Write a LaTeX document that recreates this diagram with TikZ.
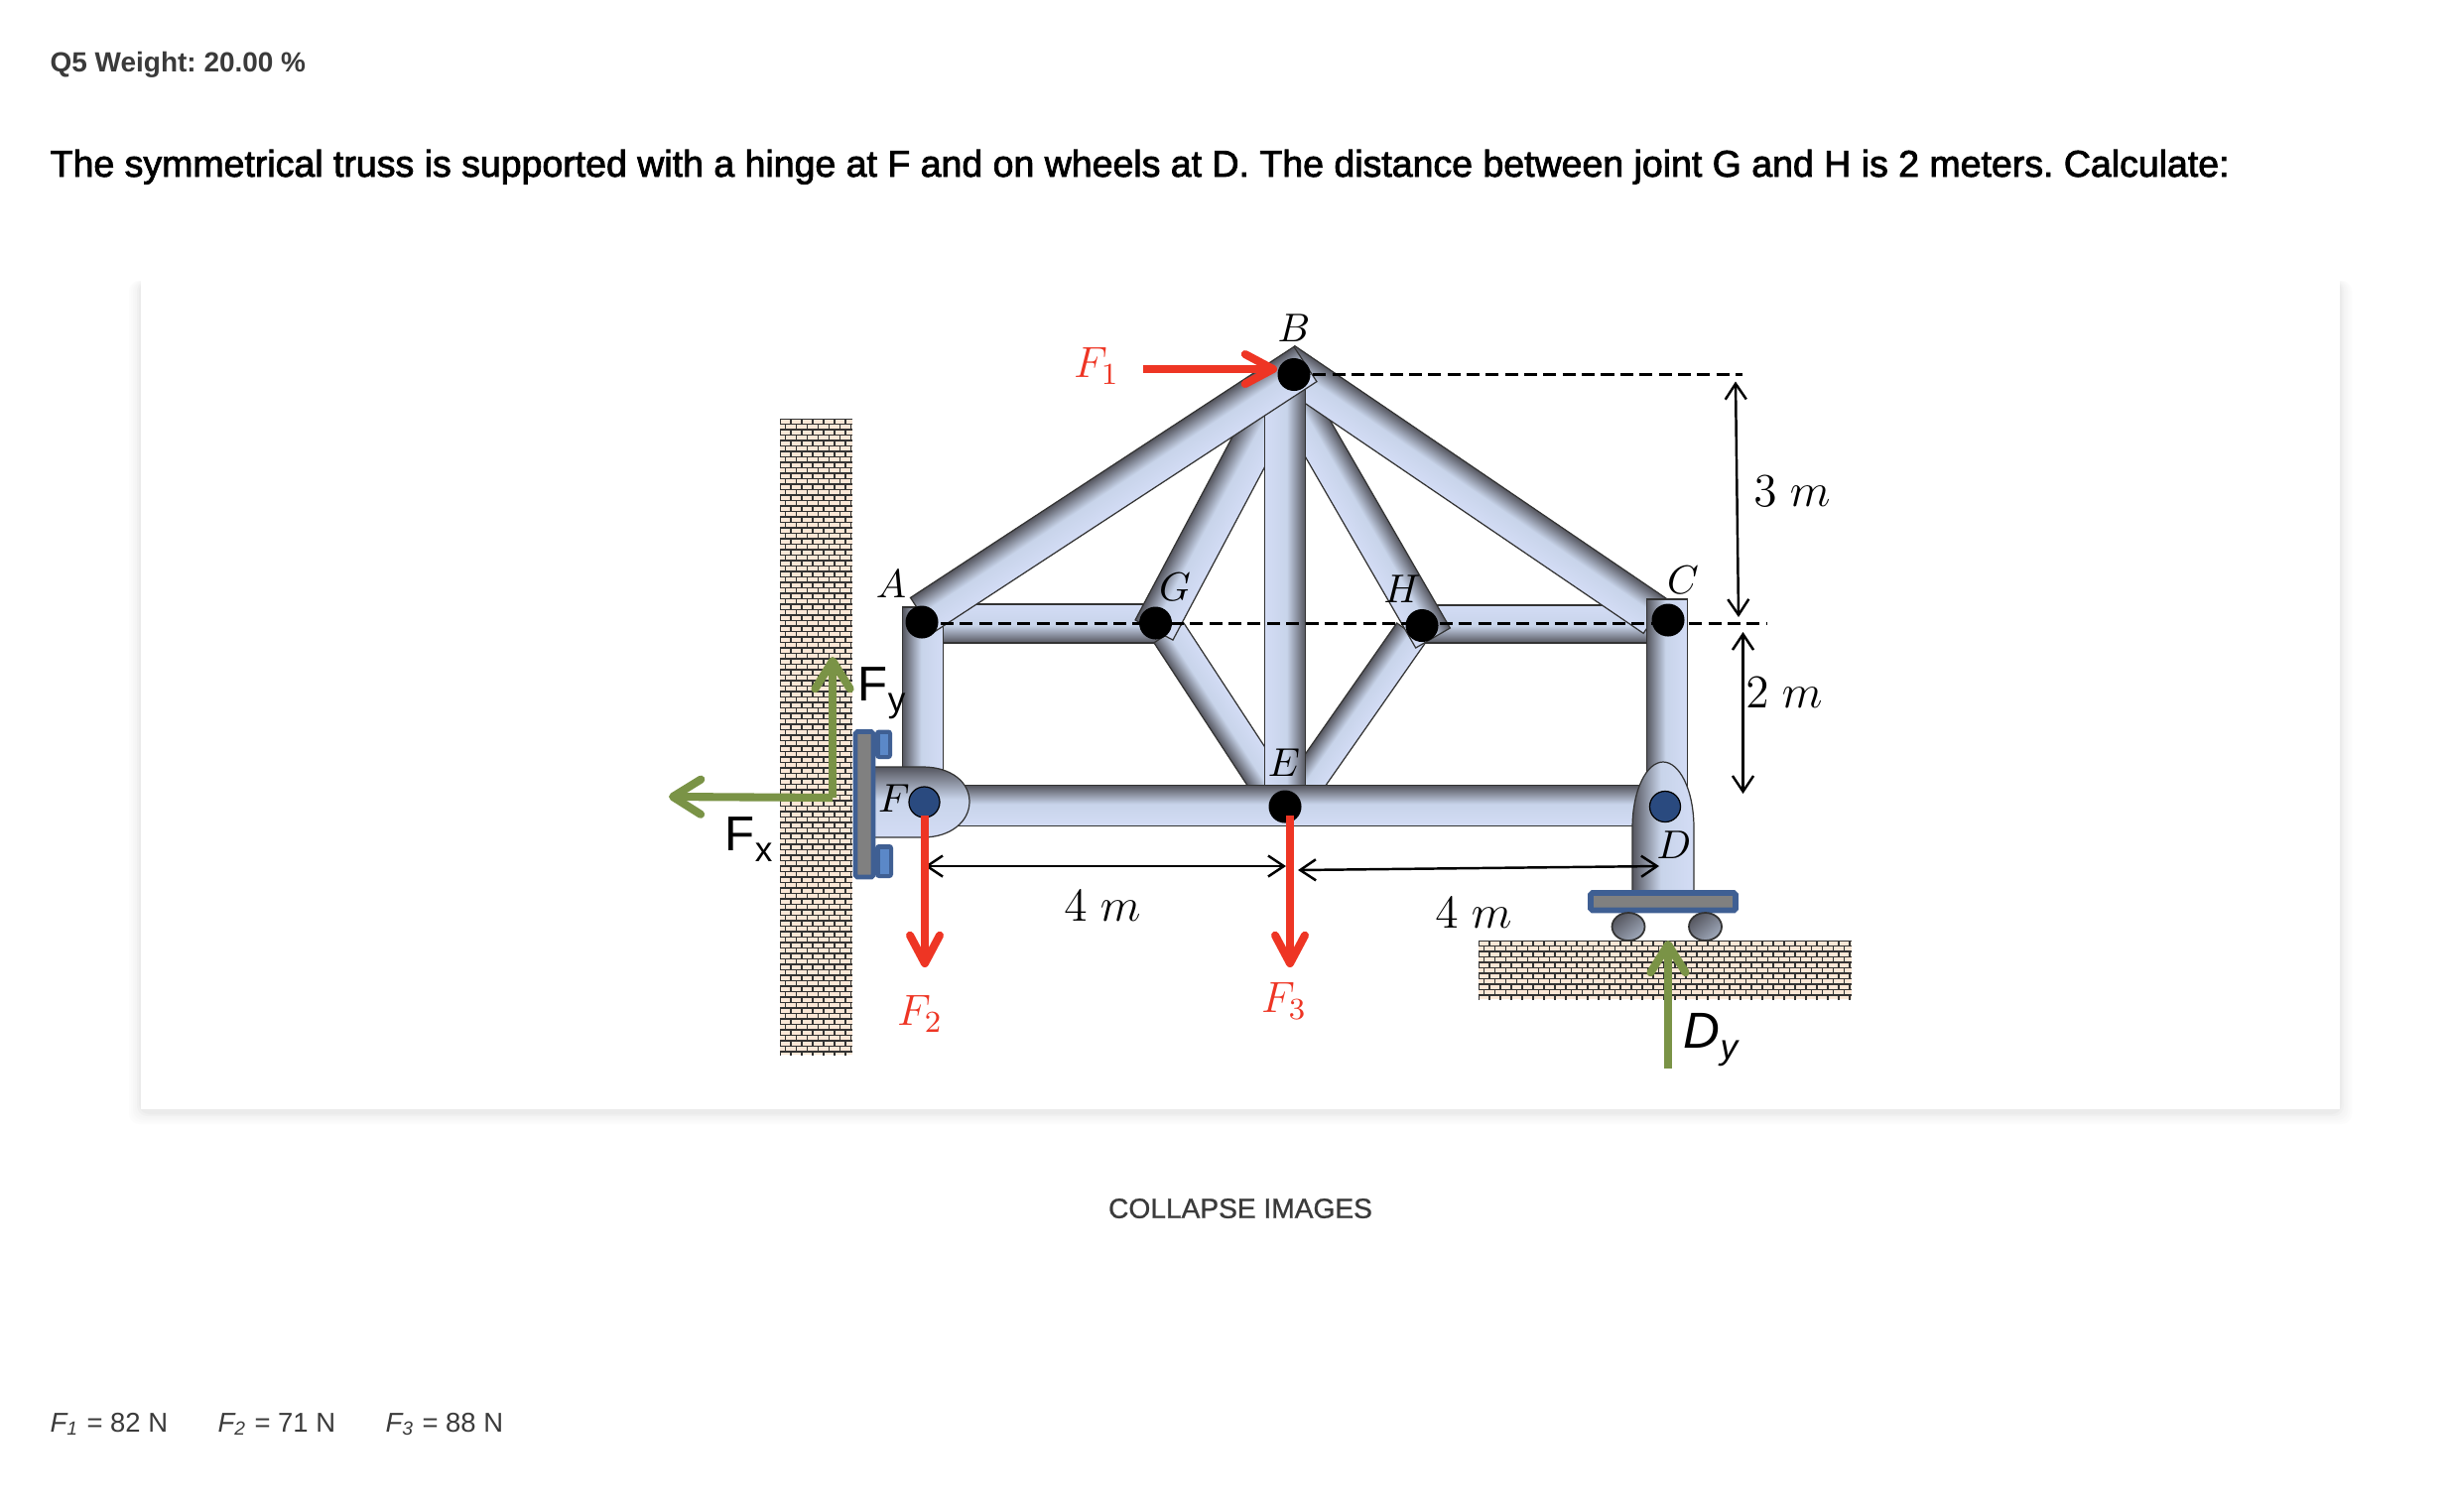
\documentclass[tikz,border=0pt]{standalone}
\usepackage{fix-cm}
\usepackage[no-math]{fontspec}
\setmainfont{Liberation Sans}
\newfontfamily\headfont[FakeBold=2.2]{Liberation Sans}
\newfontfamily\midfont[FakeBold=0.8]{Liberation Sans}
\usetikzlibrary{arrows.meta}

\definecolor{tubeDark}{HTML}{55565F}
\definecolor{tubeMid}{HTML}{C8D4EA}
\definecolor{tubeLow}{HTML}{D3DCF5}
\definecolor{pinBlue}{HTML}{2A4A7F}
\definecolor{plateBlue}{HTML}{3F5F93}
\definecolor{lugBlue}{HTML}{5B88C8}
\definecolor{brickTan}{HTML}{FBE7D6}
\definecolor{brickLine}{HTML}{333333}
\definecolor{forceRed}{HTML}{EE3524}
\definecolor{forceGreen}{HTML}{7A9346}
\definecolor{textGray}{HTML}{3A3A3A}

\pgfdeclareverticalshading{tube}{100bp}{color(0bp)=(tubeLow); color(25bp)=(tubeLow); color(52bp)=(tubeMid); color(75bp)=(tubeDark); color(100bp)=(tubeDark)}
\pgfdeclareverticalshading{wheel}{100bp}{color(0bp)=(tubeMid!80!black); color(25bp)=(tubeMid!80!black); color(75bp)=(tubeDark); color(100bp)=(tubeDark)}

\tikzset{
	tubeedge/.style={draw=black!80,line width=.35pt},
	joint/.style={circle,fill=black,inner sep=0pt,minimum size=.33cm},
	pin/.style={circle,fill=pinBlue,draw=black,line width=.35pt,inner sep=0pt,minimum size=.31cm},
	redforce/.style={forceRed,line width=2.3pt,-{Straight Barb[round,length=8pt,width=8.5pt]}},
	greenforce/.style={forceGreen,line width=2.3pt,-{Straight Barb[round,length=8pt,width=10pt]}},
	dimline/.style={black,line width=.7pt,<->,>={Straight Barb[length=4.5pt,width=6pt]}},
	dashline/.style={black,line width=.7pt,dash pattern=on 3.7pt off 1.8pt},
	jointlabel/.style={font=\fontsize{11.5}{14}\selectfont},
	forcelabel/.style={forceRed,font=\fontsize{12.5}{15}\selectfont},
	dimlabel/.style={font=\fontsize{13.5}{16}\selectfont},
	reaction/.style={font=\fontsize{14}{16}\selectfont,inner sep=0pt},
	platebar/.style={fill=black!50,draw=plateBlue,rounded corners=.5pt},
}

% one member, the dark side lies left of the direction of travel
\newcommand{\tubemember}[5]{%
	\pgfmathsetmacro\tubeang{atan2(-(#4-#2),#3-#1)}%
	\pgfmathsetmacro\tubelen{veclen(#3-#1,#4-#2)}%
	\begin{scope}[transform canvas={shift={(#1,#2)},rotate=\tubeang}]
		\shadedraw[tubeedge,shading=tube] (0,#5/2) rectangle (\tubelen,-#5/2);
	\end{scope}
}

% subscript of the reactions
\newcommand{\lowsub}[1]{\raisebox{-3.2pt}{\fontsize{10}{10}\selectfont #1}}

% brick hatching
\newcommand{\brickwall}[4]{%
	\pgfmathtruncatemacro\nrows{(#4-#2)/5.5}%
	\pgfmathtruncatemacro\ncols{(#3-#1)/11}%
	\begin{scope}
		\clip (#1,#2) rectangle (#3,#4);
		\fill[brickTan] (#1,#2) rectangle (#3,#4);
		\foreach \r in {0,...,\nrows}{
			\pgfmathsetmacro\rowy{#2+\r*5.5}
			\pgfmathsetmacro\rowoff{#1+5.5*mod(\r,2)}
			\draw[brickLine,line width=.35pt] (#1,\rowy) -- (#3,\rowy);
			\foreach \c in {0,...,\ncols}
				\draw[brickLine,line width=.35pt] ({\rowoff+\c*11},\rowy) -- ++(0,5.5);
		}
	\end{scope}
}

\begin{document}
\frenchspacing
\begin{tikzpicture}[x=.01cm,y=-.01cm]
	\useasboundingbox (0,0) rectangle (2470,1523);
	\fill[white] (0,0) rectangle (2470,1523);

	% Card with its soft shadow
	\foreach \d/\c in {12/1,10/2,8/3,6/4,4/6,2/8}
		\fill[black!\c,rounded corners=3pt] (142-\d,283) rectangle (2358+\d,1121+\d);
	\fill[white] (142,283) rectangle (2358,1118);

	% Texts of the question
	\node[anchor=base west,inner sep=0pt,textGray,font=\bfseries\fontsize{7.95}{10}\selectfont] (weight) at (50,72) {Q5 Weight: 20.00 \%};
	\node[anchor=base west,inner sep=0pt,font=\headfont\fontsize{10.66}{12}\selectfont] (question) at (50,178) {The symmetrical truss is supported with a hinge at F and on wheels at D. The distance between joint G and H is 2 meters. Calculate:};
	\node[inner sep=0pt,textGray,font=\midfont\fontsize{8}{10}\selectfont] (collapse) at (1250,1218) {COLLAPSE IMAGES};
	\node[anchor=base west,inner sep=0pt,textGray,font=\fontsize{7.8}{10}\selectfont] (valueA) at (50,1443) {\textit{F\textsubscript{1}} = 82 N};
	\node[anchor=base west,inner sep=0pt,textGray,font=\fontsize{7.8}{10}\selectfont] (valueB) at (219,1443) {\textit{F\textsubscript{2}} = 71 N};
	\node[anchor=base west,inner sep=0pt,textGray,font=\fontsize{7.8}{10}\selectfont] (valueC) at (388,1443) {\textit{F\textsubscript{3}} = 88 N};

	% Wall and ground
	\brickwall{786}{422}{859}{1063}
	\brickwall{1490}{948}{1866}{1007}

	% Members behind
	\tubemember{1170}{628.5}{945}{628.5}{39}
	\tubemember{1660}{629}{1430}{629}{38}
	\tubemember{1282}{797}{1178}{638}{36}
	\tubemember{1313}{794}{1422}{638}{35}
	\tubemember{1163}{635}{1293}{390}{43}
	\tubemember{1299}{392}{1444}{643}{40}
	\tubemember{1293}{366}{1668}{621}{42}
	\tubemember{1295}{385}{1295}{792}{41}
	\tubemember{930}{790}{930}{612}{41}
	\tubemember{1680}{800}{1680}{604}{41}
	\tubemember{950}{812}{1660}{812}{40.5}
	\tubemember{929}{620}{1315.5}{367}{42}

	% Hinge at F
	\shadedraw[tubeedge,shading=tube] (881,773) -- (930,773) .. controls (958,773) and (977,788) .. (977,808) .. controls (977,828) and (958,844) .. (930,844) -- (881,844) -- cycle;
	\fill[plateBlue,rounded corners=1pt] (882,735.5) rectangle (899,765);
	\fill[plateBlue,rounded corners=1pt] (882,851) rectangle (900,885);
	\fill[lugBlue] (887,740) rectangle (895,761);
	\fill[lugBlue] (887,856) rectangle (896,881);
	\path[platebar,line width=1.3pt] (862,737.5) rectangle (880,884);

	% Roller at D
	\shadedraw[tubeedge,shading=tube,shading angle=90] (1645,899) -- (1645,835) .. controls (1645,795) and (1660,768) .. (1676,768) .. controls (1692,768) and (1707,795) .. (1707,835) -- (1707,899) -- cycle;
	\path[platebar,line width=1.6pt] (1603,900) rectangle (1749,917.5);
	\shadedraw[draw=black!80,line width=.5pt,shading=wheel,shading angle=40] (1641,934) ellipse (16.5 and 14);
	\shadedraw[draw=black!80,line width=.5pt,shading=wheel,shading angle=40] (1718.5,934) ellipse (16.5 and 14);

	% Dashed levels
	\coordinate (topStart) at (1304,377.5);
	\coordinate (topEnd) at (1756,377.5);
	\coordinate (midStart) at (948,628.5);
	\coordinate (midEnd) at (1780,628.5);
	\draw[dashline] (topStart) -- (topEnd);
	\draw[dashline] (midStart) -- (midEnd);

	% Joints and pins
	\node[joint] (A) at (929,627) {};
	\node[joint] (G) at (1164.5,628) {};
	\node[joint] (B) at (1304,377.5) {};
	\node[joint] (E) at (1295,813) {};
	\node[joint] (H) at (1433,630.5) {};
	\node[joint] (C) at (1681,625) {};
	\node[pin] (F) at (931.5,808.5) {};
	\node[pin] (D) at (1678,813) {};

	% Dimensions
	\coordinate (dimTa) at (1749,384.5);
	\coordinate (dimTb) at (1752,622);
	\coordinate (dimMa) at (1756.5,637);
	\coordinate (dimMb) at (1756.5,800);
	\coordinate (dimLa) at (932,873);
	\coordinate (dimLb) at (1296,873);
	\coordinate (dimRa) at (1308,877);
	\coordinate (dimRb) at (1672,873);
	\draw[dimline] (dimTa) -- (dimTb);
	\draw[dimline] (dimMa) -- (dimMb);
	\draw[dimline] (dimLa) -- (dimLb);
	\draw[dimline] (dimRa) -- (dimRb);

	% Applied forces
	\coordinate (forceAs) at (1152,372);
	\coordinate (forceAt) at (1287,372);
	\coordinate (forceBs) at (932,822);
	\coordinate (forceBt) at (932,975);
	\coordinate (forceCs) at (1300,822);
	\coordinate (forceCt) at (1300,975);
	\draw[redforce] (forceAs) -- (forceAt);
	\draw[redforce] (forceBs) -- (forceBt);
	\draw[redforce] (forceCs) -- (forceCt);

	% Reactions
	\coordinate (corner) at (839,804);
	\coordinate (reactX) at (674,803);
	\coordinate (reactY) at (839,662);
	\coordinate (reactDs) at (1681,1077);
	\coordinate (reactDt) at (1681,948);
	\draw[greenforce] (corner) -- (reactX);
	\draw[greenforce] (corner) -- (reactY);
	\draw[greenforce,line cap=butt] (reactDs) -- (reactDt);

	% Labels
	\node[jointlabel] (lblA) at (898,589) {$A$};
	\node[jointlabel] (lblG) at (1184,592) {$G$};
	\node[jointlabel] (lblB) at (1304,331) {$B$};
	\node[jointlabel] (lblE) at (1294,769) {$E$};
	\node[jointlabel] (lblH) at (1413,594) {$H$};
	\node[jointlabel] (lblC) at (1696,585) {$C$};
	\node[jointlabel] (lblF) at (901,805) {$F$};
	\node[jointlabel] (lblD) at (1687,852) {$D$};
	\node[forcelabel] (lblFa) at (1105,369) {$F_1$};
	\node[forcelabel] (lblFb) at (927,1022) {$F_2$};
	\node[forcelabel] (lblFc) at (1294,1009) {$F_3$};
	\node[dimlabel] (lblLeft) at (1111,913) {$4\ m$};
	\node[dimlabel] (lblRight) at (1485,920) {$4\ m$};
	\node[dimlabel] (lblUp) at (1806,495) {$3\ m$};
	\node[dimlabel] (lblLow) at (1798,698) {$2\ m$};
	\node[reaction,anchor=base west] (lblFx) at (730,857) {F\lowsub{x}};
	\node[reaction,anchor=base west] (lblFy) at (864,706) {F\lowsub{y}};
	\node[reaction,anchor=base west,font=\itshape\fontsize{14.5}{18}\selectfont] (lblDy) at (1696,1056) {D\lowsub{y}};
\end{tikzpicture}
\end{document}
